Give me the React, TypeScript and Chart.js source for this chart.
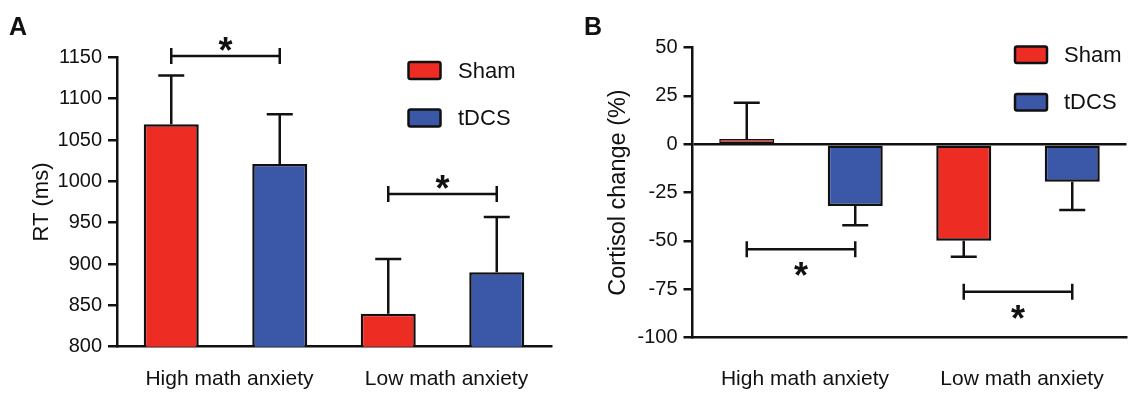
import React, { useEffect, useRef } from "react";
import { Chart, registerables } from "chart.js";

Chart.register(...registerables);

// ---------- data ----------
const categories = ["High math anxiety", "Low math anxiety"];
const groupNames = ["Sham", "tDCS"];

// Panel A: reaction time (ms)
const rtSham = [1069, 840];
const rtShamErr = [59, 66];
const rtTdcs = [1021, 890];
const rtTdcsErr = [60, 67];
const rtSigY = [1151.5, 984.7];
const rtTickMin = 800;
const rtTickMax = 1150;
const rtTickStep = 50;

// Panel B: cortisol change (%)
const cortSham = [2.7, -50];
const cortShamErr = [18.8, 8.3];
const cortTdcs = [-32, -19.4];
const cortTdcsErr = [10, 14.7];
const cortSigY = [-54.4, -76.4];
const cortTickMin = -100;
const cortTickMax = 50;
const cortTickStep = 25;

// ---------- style ----------
const RED = "rgb(237,45,36)";
const BLUE = "rgb(59,87,167)";
const INK = "#111111";
const FONT = "'Liberation Sans', Arial, Helvetica, sans-serif";
const LW = 2.5;

type PanelOpts = {
  letter: string;
  letterX: number;
  values: number[][];
  errors: number[][];
  sigY: number[];
  starDy: number;
  yMin: number;
  yMax: number;
  yStep: number;
  yTitle: string;
  yTitleSize: number;
  yTitlePad: number;
  yWidth: number;
  xHeight: number;
  xLineHeight: number;
  padTop: number;
  padRight: number;
  zeroLine: boolean;
  legendBoxX: number;
  legendBoxY: number[];
  legendBoxW: number;
  legendBoxH: number;
  legendTextX: number;
};

function makeOverlay(o: PanelOpts) {
  return {
    id: "overlay_" + o.letter,
    afterDatasetsDraw(chart: any) {
      const ctx: CanvasRenderingContext2D = chart.ctx;
      const ys = chart.scales.y;
      ctx.save();
      ctx.strokeStyle = INK;
      ctx.lineWidth = LW;
      ctx.lineCap = "butt";
      // error bars
      o.values.forEach((vals, di) => {
        const meta = chart.getDatasetMeta(di);
        vals.forEach((v, j) => {
          const bar = meta.data[j];
          const sign = v >= 0 ? 1 : -1;
          const y0 = ys.getPixelForValue(v);
          const y1 = ys.getPixelForValue(v + sign * o.errors[di][j]);
          ctx.beginPath();
          ctx.moveTo(bar.x, y0);
          ctx.lineTo(bar.x, y1);
          ctx.moveTo(bar.x - 13, y1);
          ctx.lineTo(bar.x + 13, y1);
          ctx.stroke();
        });
      });
      // significance brackets
      const m0 = chart.getDatasetMeta(0);
      const m1 = chart.getDatasetMeta(1);
      o.sigY.forEach((sv, j) => {
        const x1 = m0.data[j].x;
        const x2 = m1.data[j].x;
        const y = ys.getPixelForValue(sv);
        ctx.beginPath();
        ctx.moveTo(x1, y);
        ctx.lineTo(x2, y);
        ctx.moveTo(x1, y - 8);
        ctx.lineTo(x1, y + 8);
        ctx.moveTo(x2, y - 8);
        ctx.lineTo(x2, y + 8);
        ctx.stroke();
        const starSize = 36;
        ctx.fillStyle = INK;
        ctx.font = `bold ${starSize}px ${FONT}`;
        ctx.textAlign = "center";
        ctx.textBaseline = "alphabetic";
        ctx.fillText("*", (x1 + x2) / 2, y + o.starDy + 0.56 * starSize);
      });
      // legend
      chart.data.datasets.forEach((ds: any, i: number) => {
        const by = o.legendBoxY[i];
        ctx.fillStyle = ds.backgroundColor;
        ctx.beginPath();
        ctx.roundRect(o.legendBoxX, by, o.legendBoxW, o.legendBoxH, 2);
        ctx.fill();
        ctx.strokeStyle = INK;
        ctx.lineWidth = LW;
        ctx.stroke();
        ctx.fillStyle = INK;
        ctx.font = `22px ${FONT}`;
        ctx.textAlign = "left";
        ctx.textBaseline = "middle";
        ctx.fillText(ds.label, o.legendTextX, by + o.legendBoxH / 2 + 1);
      });
      // panel letter
      ctx.fillStyle = INK;
      ctx.font = `bold 25px ${FONT}`;
      ctx.textAlign = "left";
      ctx.textBaseline = "alphabetic";
      ctx.fillText(o.letter, o.letterX, 35);
      ctx.restore();
    },
  };
}

function makeConfig(o: PanelOpts): any {
  const barStyle = {
    borderColor: INK,
    // thin outline on very short bars so their fill stays visible
    borderWidth: (c: any) => (Math.abs(c.raw) < 5 ? 1.4 : LW),
    borderSkipped: false,
    categoryPercentage: 1.0,
    barPercentage: 0.507,
  };
  return {
    type: "bar",
    data: {
      labels: categories,
      datasets: [
        { label: groupNames[0], data: o.values[0], backgroundColor: RED, ...barStyle },
        { label: groupNames[1], data: o.values[1], backgroundColor: BLUE, ...barStyle },
      ],
    },
    options: {
      responsive: false,
      animation: false,
      devicePixelRatio: 1,
      layout: { padding: { top: o.padTop, right: o.padRight, bottom: 0, left: 0 } },
      plugins: { legend: { display: false }, tooltip: { enabled: false } },
      scales: {
        x: {
          grid: { display: false, drawTicks: false, lineWidth: LW },
          border: { display: true, color: INK, width: LW },
          ticks: {
            color: INK,
            padding: 12,
            labelOffset: 4,
            maxRotation: 0,
            font: { family: FONT, size: 21, lineHeight: o.xLineHeight },
          },
          afterFit: (s: any) => {
            s.height = o.xHeight;
          },
        },
        y: {
          min: o.yMin,
          max: o.yMax,
          grid: {
            drawOnChartArea: o.zeroLine,
            color: (c: any) => (o.zeroLine && c.tick && c.tick.value === 0 ? INK : "rgba(0,0,0,0)"),
            lineWidth: LW,
            tickWidth: LW,
            tickLength: 9,
            tickColor: INK,
          },
          border: { display: true, color: INK, width: LW },
          ticks: {
            stepSize: o.yStep,
            color: INK,
            padding: 6,
            font: { family: FONT, size: 20 },
            callback: (v: any) => String(v),
          },
          title: {
            display: true,
            text: o.yTitle,
            color: INK,
            padding: o.yTitlePad,
            font: { family: FONT, size: o.yTitleSize, lineHeight: 1 },
          },
          afterFit: (s: any) => {
            s.width = o.yWidth;
          },
        },
      },
    },
    plugins: [makeOverlay(o)],
  };
}

const panelA: PanelOpts = {
  letter: "A",
  letterX: 9,
  values: [rtSham, rtTdcs],
  errors: [rtShamErr, rtTdcsErr],
  sigY: rtSigY,
  starDy: -13.3,
  yMin: rtTickMin,
  yMax: rtTickMax,
  yStep: rtTickStep,
  yTitle: "RT (ms)",
  yTitleSize: 22,
  yTitlePad: 31,
  yWidth: 117,
  xHeight: 48.3,
  xLineHeight: 1.933,
  padTop: 57.3,
  padRight: 9,
  zeroLine: false,
  legendBoxX: 408.5,
  legendBoxY: [62, 109.5],
  legendBoxW: 32,
  legendBoxH: 17,
  legendTextX: 458,
};

const panelB: PanelOpts = {
  letter: "B",
  letterX: 24,
  values: [cortSham, cortTdcs],
  errors: [cortShamErr, cortTdcsErr],
  sigY: cortSigY,
  starDy: 19,
  yMin: cortTickMin,
  yMax: cortTickMax,
  yStep: cortTickStep,
  yTitle: "Cortisol change (%)",
  yTitleSize: 23.5,
  yTitlePad: 47,
  yWidth: 132.5,
  xHeight: 57.7,
  xLineHeight: 2.83,
  padTop: 47.7,
  padRight: 1.5,
  zeroLine: true,
  legendBoxX: 455,
  legendBoxY: [46.5, 94],
  legendBoxW: 32,
  legendBoxH: 16.5,
  legendTextX: 504,
};

function Panel({ left, width, opts }: { left: number; width: number; opts: PanelOpts }) {
  const ref = useRef<HTMLCanvasElement | null>(null);
  useEffect(() => {
    if (!ref.current) return;
    const chart = new Chart(ref.current, makeConfig(opts));
    return () => chart.destroy();
  }, [opts]);
  return (
    <canvas
      ref={ref}
      width={width}
      height={395}
      style={{ position: "absolute", left, top: 0, width, height: 395, display: "block" }}
    />
  );
}

export default function App() {
  return (
    <div style={{ position: "absolute", left: 0, top: 0, width: 1128, height: 395, background: "#ffffff" }}>
      <Panel left={0} width={560} opts={panelA} />
      <Panel left={560} width={568} opts={panelB} />
    </div>
  );
}
